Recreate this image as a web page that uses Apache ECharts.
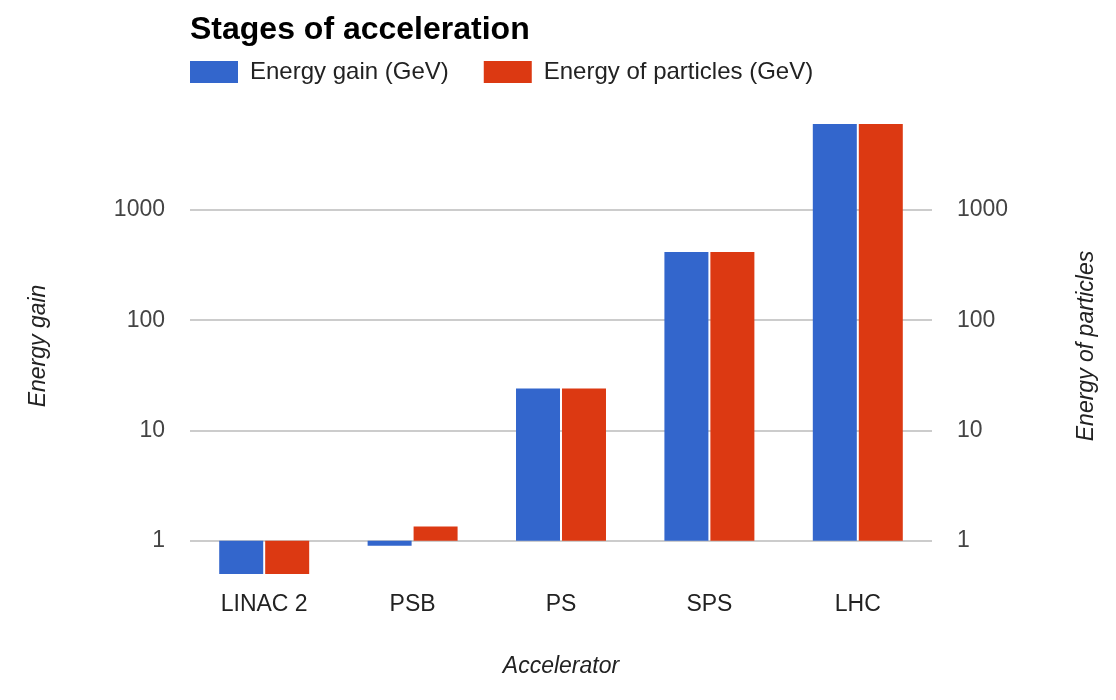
<!DOCTYPE html>
<html><head><meta charset="utf-8">
<script src="https://cdn.jsdelivr.net/npm/echarts@6/dist/echarts.min.js"></script>
<style>html,body{margin:0;padding:0;background:#fff}#chart{width:1116px;height:700px}</style>
</head><body><div id="chart"></div>
<script>
const titleText = 'Stages of acceleration';
const categories = ['LINAC 2', 'PSB', 'PS', 'SPS', 'LHC'];
const seriesNames = ['Energy gain (GeV)', 'Energy of particles (GeV)'];
const energyGain = [0.05, 0.9, 24, 415, 6000];
const energyOfParticles = [0.05, 1.35, 24, 415, 6000];
const xAxisName = 'Accelerator';
const leftAxisName = 'Energy gain';
const rightAxisName = 'Energy of particles';
const axisMin = 0.5;
const axisMax = 6800;

const FONT = '"Liberation Sans", Arial, Helvetica, sans-serif';
const chart = echarts.init(document.getElementById('chart'), null, {renderer: 'canvas'});
const fmt = v => String(+Number(v).toPrecision(6));

function yAxis(name, position, showGrid, gap) {
  return {
    type: 'log', logBase: 10, position: position,
    min: axisMin, max: axisMax,
    name: name, nameLocation: 'middle', nameGap: gap, nameRotate: 90,
    nameTextStyle: {fontFamily: FONT, fontSize: 23, fontStyle: 'italic', color: '#222'},
    axisLine: {show: false}, axisTick: {show: false},
    axisLabel: {show: true, margin: 25, fontFamily: FONT, fontSize: 23, color: '#444',
      showMinLabel: false, showMaxLabel: false, formatter: fmt},
    splitLine: {show: showGrid, showMinLine: false, showMaxLine: false,
      lineStyle: {color: '#cccccc', width: 2}}
  };
}

chart.setOption({
  animation: false,
  backgroundColor: '#ffffff',
  title: {text: titleText, left: 190, top: 14, padding: 0,
    textStyle: {fontFamily: FONT, fontSize: 32, fontWeight: 'bold', color: '#000'}},
  legend: {left: 190, top: 60, padding: 0, itemWidth: 48, itemHeight: 22, itemGap: 35,
    icon: 'rect', data: seriesNames,
    textStyle: {fontFamily: FONT, fontSize: 24, color: '#222', padding: [2, 0, 0, 7]}},
  grid: {left: 190, right: 184, top: 118, bottom: 126, containLabel: false, outerBoundsMode: 'none'},
  xAxis: {type: 'category', data: categories,
    name: xAxisName, nameLocation: 'middle', nameGap: 81,
    nameTextStyle: {fontFamily: FONT, fontSize: 23, fontStyle: 'italic', color: '#222'},
    axisLine: {show: false}, axisTick: {show: false},
    axisLabel: {margin: 19, fontFamily: FONT, fontSize: 23, color: '#222'},
    splitLine: {show: false}},
  yAxis: [yAxis(leftAxisName, 'left', true, 140), yAxis(rightAxisName, 'right', false, 143)],
  series: [
    {name: seriesNames[0], type: 'bar', yAxisIndex: 0, data: energyGain,
      barWidth: 44, barGap: '4.5%', clip: true, itemStyle: {color: '#3366CC'}},
    {name: seriesNames[1], type: 'bar', yAxisIndex: 1, data: energyOfParticles,
      barWidth: 44, barGap: '4.5%', clip: true, itemStyle: {color: '#DC3912'}}
  ]
});
</script></body></html>
